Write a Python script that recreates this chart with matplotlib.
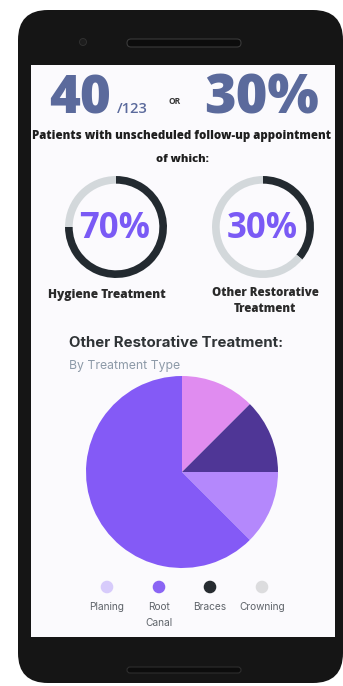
import matplotlib
matplotlib.use("Agg")
import matplotlib.pyplot as plt
from matplotlib.patches import FancyBboxPatch, Rectangle, Circle

# data
headline_count = 40
headline_total = 123
headline_pct = "30%"
ring_labels = ["Hygiene Treatment", "Other Restorative\nTreatment"]
ring_texts = ["70%", "30%"]
ring_fill = [75, 36]          # share of ring drawn dark
pie_values = [12.5, 12.5, 12.5, 62.5]
pie_colors = ["#E08CF0", "#4F3696", "#B488FC", "#845AF6"]
legend_labels = ["Planing", "Root\nCanal", "Braces", "Crowning"]
legend_colors = ["#D7CBFB", "#8A64F4", "#262B30", "#DCDCDE"]

W, H = 343, 686
fig = plt.figure(figsize=(W / 100, H / 100), dpi=100)
fig.patch.set_facecolor("white")

bg = fig.add_axes([0, 0, 1, 1])
bg.set_xlim(0, W)
bg.set_ylim(H, 0)
bg.axis("off")

# phone body and screen
bg.add_patch(FancyBboxPatch((18 + 30, 10 + 30), 325 - 60, 673 - 60,
                            boxstyle="round,pad=30", fc="#151515", ec="none"))
bg.add_patch(Rectangle((31, 65), 304, 572, fc="#FBFAFD", ec="none"))
bg.add_patch(FancyBboxPatch((127, 39), 114, 8, boxstyle="round,pad=0,rounding_size=4",
                            fc="#0c0c0c", ec="#3a3a3a", lw=0.8))
bg.add_patch(Circle((83, 42), 3.5, fc="#1d1d1d", ec="#333333", lw=0.6))
bg.add_patch(FancyBboxPatch((127, 667), 114, 6, boxstyle="round,pad=0,rounding_size=3",
                            fc="#0c0c0c", ec="#2e2e2e", lw=0.8))


def px(x0, y0, w, h):
    return [x0 / W, (H - y0 - h) / H, w / W, h / H]


slate = "#5B6A9C"
bg.text(80, 113, str(headline_count), fontsize=38, fontweight="heavy", color=slate,
        family="Open Sans", ha="center", va="baseline")
bg.text(117, 113, "/" + str(headline_total), fontsize=10.5, fontweight="semibold",
        color=slate, family="Open Sans", ha="left", va="baseline")
bg.text(175, 104, "OR", fontsize=6, fontweight="bold", color="#333333",
        family="Open Sans", ha="center", va="baseline")
bg.text(261, 113, headline_pct, fontsize=39, fontweight="heavy", color=slate,
        family="Open Sans", ha="center", va="baseline")
bg.text(181, 136, "Patients with unscheduled follow-up appointment", fontsize=8.3,
        fontweight="heavy", color="#1E1E1E", family="Open Sans", ha="center", va="center")
bg.text(182, 160, "of which:", fontsize=8.1, fontweight="heavy", color="#1E1E1E",
        family="Open Sans", ha="center", va="center")

# progress rings
ring_centers = [(116, 227), (263, 227)]
for (cx, cy), fill, txt in zip(ring_centers, ring_fill, ring_texts):
    ax = fig.add_axes(px(cx - 52, cy - 52, 104, 104))
    ax.pie([fill, 100 - fill], colors=["#232A30", "#D3D8DB"], startangle=90,
           counterclock=False, radius=1, wedgeprops=dict(width=0.15, lw=0))
    ax.set_xlim(-1.02, 1.02)
    ax.set_ylim(-1.02, 1.02)
    ax.set_aspect("equal")
    ax.axis("off")
    bg.text(cx - 1, cy + 2, txt, fontsize=25, fontweight="bold", color="#7A5AF5",
            family="Open Sans", ha="center", va="center")

bg.text(107, 295, ring_labels[0], fontsize=8.6, fontweight="heavy", color="#2A2A2A",
        family="Open Sans", ha="center", va="center")
bg.text(265, 301, ring_labels[1], fontsize=8.3, fontweight="heavy", color="#2A2A2A",
        family="Open Sans", ha="center", va="center", linespacing=1.35)

bg.text(69, 343, "Other Restorative Treatment:", fontsize=10.8, fontweight="bold",
        color="#2F3336", family="Inter", ha="left", va="center")
bg.text(69, 366, "By Treatment Type", fontsize=8.8, color="#8D9AA8",
        family="Inter", ha="left", va="center")

# pie
pax = fig.add_axes(px(182 - 96, 472 - 96, 192, 192))
pax.pie(pie_values, colors=pie_colors, startangle=90, counterclock=False, radius=1,
        wedgeprops=dict(lw=0))
pax.set_xlim(-1, 1)
pax.set_ylim(-1, 1)
pax.set_aspect("equal")
pax.axis("off")

# legend
lx = [107, 159, 210, 262]
bg.scatter(lx, [587] * 4, s=65, c=legend_colors, zorder=3)
for x, lab in zip(lx, legend_labels):
    bg.text(x, 602, lab, fontsize=7.3, color="#5F646A", family="Inter",
            ha="center", va="top", linespacing=1.75)

fig.savefig("out.png", dpi=100)
